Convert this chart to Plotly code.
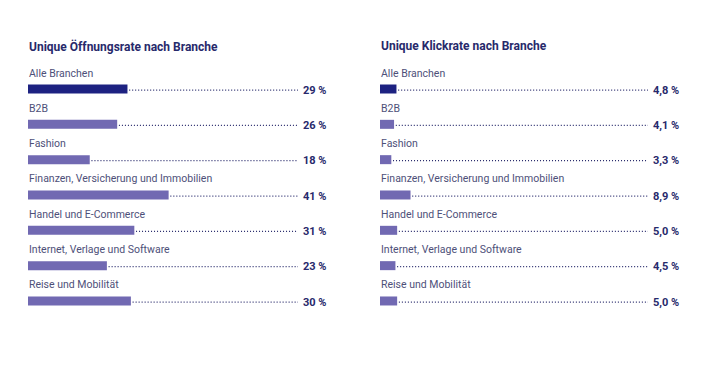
import plotly.graph_objects as go

categories = ["Alle Branchen", "B2B", "Fashion", "Finanzen, Versicherung und Immobilien",
              "Handel und E-Commerce", "Internet, Verlage und Software", "Reise und Mobilität"]
open_rate = [29, 26, 18, 41, 31, 23, 30]
click_rate = [4.8, 4.1, 3.3, 8.9, 5.0, 4.5, 5.0]
open_labels = ["29 %", "26 %", "18 %", "41 %", "31 %", "23 %", "30 %"]
click_labels = ["4,8 %", "4,1 %", "3,3 %", "8,9 %", "5,0 %", "4,5 %", "5,0 %"]
titles = ["Unique Öffnungsrate nach Branche", "Unique Klickrate nach Branche"]

OFF = 8               # page body margin of the browser
W, H = 728 - 2 * OFF, 366 - 2 * OFF
DARK = "#1d2281"
LIGHT = "#7169b2"
TEXT = "#27296b"
LABEL = "#4e5079"
FONT = "Roboto"

PXU = 3.43            # pixels per percent unit
PANEL_W = 300         # px
XMAX = PANEL_W / PXU
row0, rowstep = 89 - OFF, 35.33
yr = [(H - row0) / rowstep, -row0 / rowstep]

fig = go.Figure()
panels = [(28 - OFF, open_rate, open_labels, 298 - OFF, "x", "y"),
          (380 - OFF, click_rate, click_labels, 648 - OFF, "x2", "y2")]
annotations = []
for k, (x0, vals, labs, dot_end_px, xa, ya) in enumerate(panels):
    colors = [DARK] + [LIGHT] * (len(vals) - 1)
    fig.add_trace(go.Bar(x=vals, y=list(range(len(vals))), orientation="h",
                         marker=dict(color=colors, line=dict(width=0)),
                         width=9 / rowstep, xaxis=xa, yaxis=ya, hoverinfo="skip"))
    dot_end = (dot_end_px - x0) / PXU
    dx, dy = [], []
    for i, v in enumerate(vals):
        dx += [v + 0.5, dot_end, None]
        dy += [i + 0.03, i + 0.03, None]
    fig.add_trace(go.Scatter(x=dx, y=dy, mode="lines", xaxis=xa, yaxis=ya,
                             line=dict(color=TEXT, width=1.2, dash="1px,2px"), hoverinfo="skip"))
    for i, (c, lab) in enumerate(zip(categories, labs)):
        annotations.append(dict(x=0, y=i - 16 / rowstep, xref=xa, yref=ya, text=c,
                                showarrow=False, xanchor="left", yanchor="middle", xshift=-1,
                                font=dict(family=FONT, size=10.5, color=LABEL)))
        annotations.append(dict(x=XMAX, y=i + 0.03, xref=xa, yref=ya, text="<b>%s</b>" % lab,
                                showarrow=False, xanchor="right", yanchor="middle", xshift=1,
                                font=dict(family=FONT, size=11, color=TEXT)))
    annotations.append(dict(x=0, y=-43 / rowstep, xref=xa, yref=ya, text="<b>%s</b>" % titles[k],
                            showarrow=False, xanchor="left", yanchor="middle", xshift=-1,
                            font=dict(family=FONT, size=12, color=TEXT)))

ax = dict(range=[0, XMAX], visible=False, fixedrange=True)
ay = dict(range=yr, visible=False, fixedrange=True)
fig.update_layout(
    width=W, height=H, margin=dict(l=0, r=0, t=0, b=0),
    paper_bgcolor="white", plot_bgcolor="white", showlegend=False,
    xaxis=dict(ax, domain=[(28 - OFF) / W, (28 - OFF + PANEL_W) / W]),
    xaxis2=dict(ax, domain=[(380 - OFF) / W, (380 - OFF + PANEL_W) / W]),
    yaxis=dict(ay, anchor="x"), yaxis2=dict(ay, anchor="x2"),
    annotations=annotations, barmode="overlay",
)
fig.write_html("out.html")
